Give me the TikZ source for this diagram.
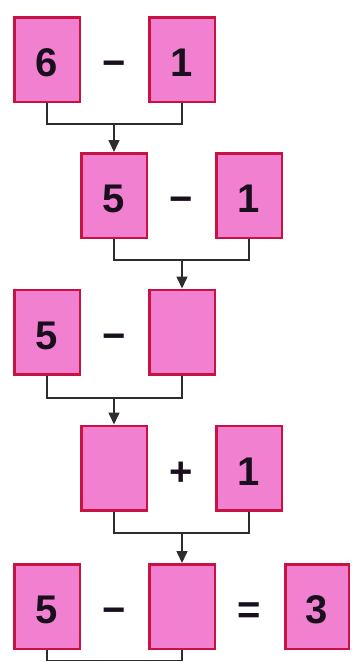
\documentclass[tikz,border=0pt]{standalone}
\usepackage{fontspec}
\setmainfont{Liberation Sans}
\usetikzlibrary{arrows.meta}
\definecolor{boxfill}{RGB}{242,128,208}
\definecolor{boxedge}{RGB}{200,18,66}
\definecolor{ink}{RGB}{25,15,30}
\definecolor{wirecol}{RGB}{45,45,45}
\begin{document}
\begin{tikzpicture}[x=1pt,y=-1pt,
  numbox/.style={draw=boxedge, line width=2.5pt, fill=boxfill,
    minimum width=65.5pt, minimum height=84.5pt, inner sep=0pt,
    font=\fontsize{40}{40}\selectfont\bfseries, text=ink,
    text height=34pt, text depth=0pt},
  op/.style={inner sep=0pt, font=\fontsize{40}{40}\selectfont\bfseries,
    text=ink, text height=34pt, text depth=0pt},
  wire/.style={draw=wirecol, line width=1.5pt},
  arr/.style={wire, -{Triangle[width=11pt,length=12pt]}}]
\useasboundingbox (0,0) rectangle (352,662);
% row 1
\node[numbox] (A) at (47,59.5) {6};
\node[op] (o1) at (114.5,59.5) {−};
\node[numbox] (B) at (182,59.5) {1};
% row 2
\node[numbox] (C) at (114,195.5) {5};
\node[op] (o2) at (181.5,195.5) {−};
\node[numbox] (D) at (249,195.5) {1};
% row 3
\node[numbox] (E) at (47,332) {5};
\node[op] (o3) at (114.5,332) {−};
\node[numbox] (F) at (182,332) {};
% row 4
\node[numbox] (G) at (114,468) {};
\node[op] (o4) at (181.5,468) {+};
\node[numbox] (H) at (249,468) {1};
% row 5
\node[numbox] (I) at (47,606.5) {5};
\node[op] (o5) at (114.5,606.5) {−};
\node[numbox] (J) at (182,606.5) {};
\node[op] (o6) at (249,606.5) {=};
\node[numbox, minimum width=63.5pt] (K) at (317,606.5) {3};
% connectors
\coordinate (m1) at (114,124);
\coordinate (m2) at (182,260);
\coordinate (m3) at (114,398);
\coordinate (m4) at (182,533);
\coordinate (m5) at (114,660.5);
\draw[wire] (A.south) |- (m1) -| (B.south);
\draw[arr] (m1) -- (m1 |- C.north);
\draw[wire] (C.south) |- (m2) -| (D.south);
\draw[arr] (m2) -- (m2 |- F.north);
\draw[wire] (E.south) |- (m3) -| (F.south);
\draw[arr] (m3) -- (m3 |- G.north);
\draw[wire] (G.south) |- (m4) -| (H.south);
\draw[arr] (m4) -- (m4 |- J.north);
\draw[wire] (I.south) |- (m5) -| (J.south);
\end{tikzpicture}
\end{document}
